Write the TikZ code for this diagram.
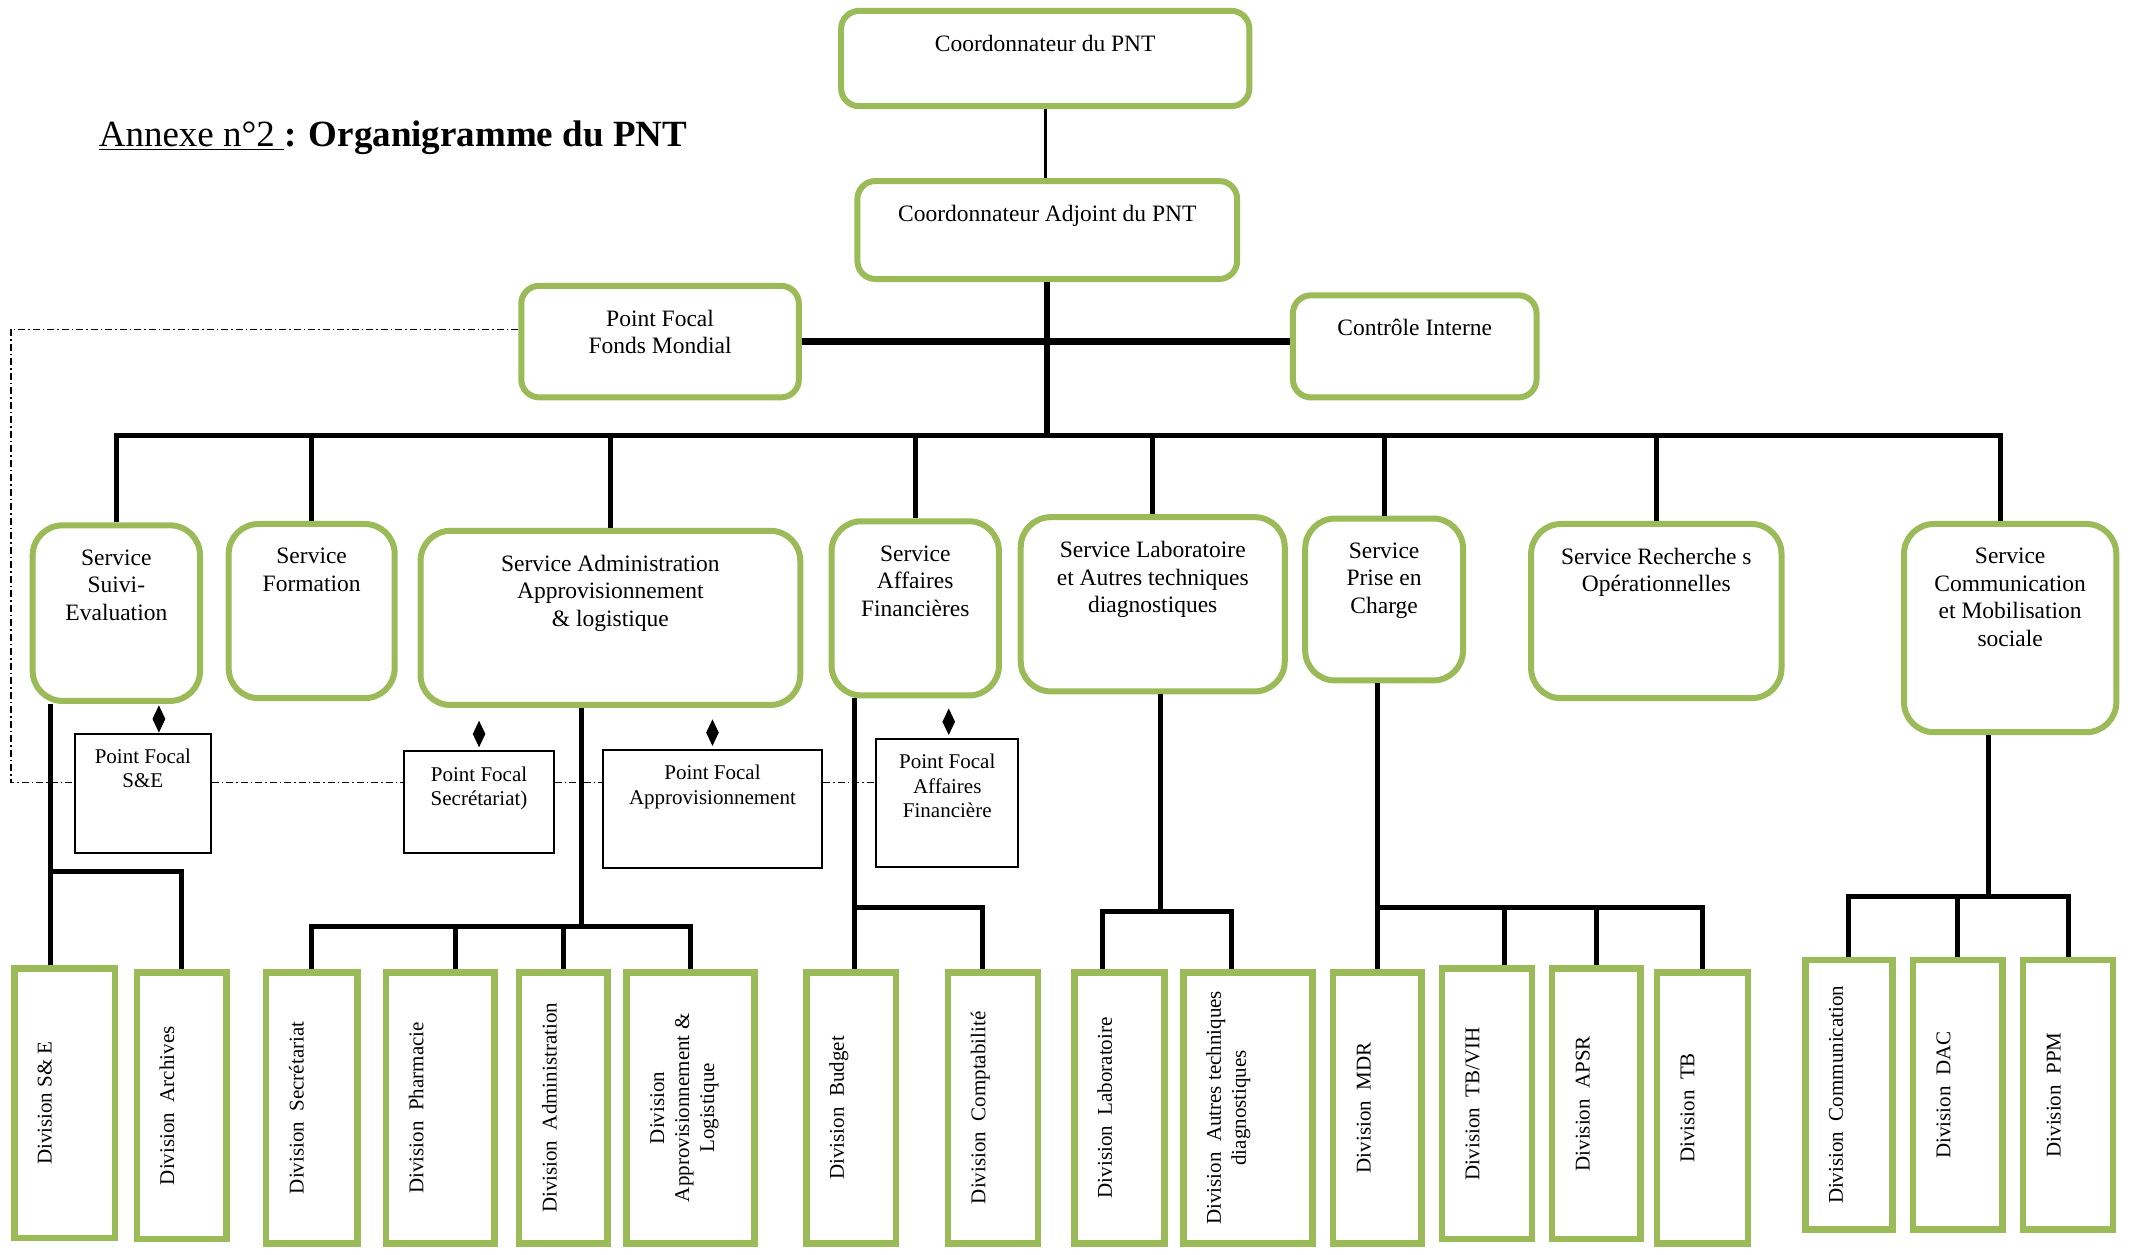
\documentclass[tikz,border=0pt]{standalone}
\usepackage{fontspec}
\setmainfont{Liberation Serif}
\usepackage{graphicx}
\usetikzlibrary{positioning,arrows.meta}

\definecolor{boxgreen}{RGB}{155,187,89}
\newcommand{\boxfont}{\fontsize{23.5}{27.5}\selectfont}
\newcommand{\pffont}{\fontsize{21}{24.5}\selectfont}
\newcommand{\divfont}{\fontsize{21}{25}\selectfont}

\begin{document}
\begin{tikzpicture}[x=1.361pt,y=-1.361pt]
      % the page is the size of the scan, coordinates are read off the scan
      \useasboundingbox (0,0) rectangle (1568,922);
      % wh gives the size of a box in the same units as the coordinates
      % the text of a box sits at its top, so it is put in with a label
      \tikzset{wh/.style 2 args={minimum width=#1*1.361pt, minimum height=#2*1.361pt},
        topbox/.style={draw=boxgreen, line width=6pt, rounded corners=18pt,
            fill=white, inner sep=0pt},
        svc/.style={topbox, rounded corners=30pt},
        pfbox/.style={draw=black, line width=2pt, fill=white, inner sep=0pt},
        divbox/.style={draw=boxgreen, line width=6.5pt, fill=white, inner sep=0pt},
        intext/.style={label={[anchor=north, yshift=-27pt, inner sep=0pt,
            align=center, font=\boxfont]north:#1}},
        pftext/.style={label={[anchor=north, yshift=-16pt, inner sep=0pt,
            align=center, font=\pffont]north:#1}},
        divtext/.style={label={[anchor=west, xshift=23pt, inner sep=0pt,
            font=\divfont]west:\rotatebox{90}{\begin{tabular}{@{}c@{}}#1\end{tabular}}}},
        conn/.style={line width=5pt},
        dia/.style={line width=0.8pt,
            {Triangle[length=13.5pt,width=12.5pt]}-{Triangle[length=13.5pt,width=12.5pt]}},
        fmline/.style={line width=1.7pt, dash pattern=on 7pt off 3pt on 1.5pt off 3pt}}

      \node[anchor=base west, font=\fontsize{37}{41}\selectfont] (title) at (70,108)
          {\underline{Annexe n°2 }\textbf{: Organigramme du PNT}};

      % coordination
      \node[topbox, wh={300}{70}, intext={Coordonnateur du PNT}] (co) at (768,43) {};
      \node[topbox, wh={279}{72}, intext={Coordonnateur Adjoint du PNT}] (ca) at (769.5,169) {};
      \node[topbox, wh={204}{82}, intext={Point Focal\\Fonds Mondial}] (pf) at (485,251) {};
      \node[topbox, wh={179}{75}, intext={Contrôle Interne}] (ci) at (1039.5,254.5) {};

      % the services
      \node[svc, wh={123}{129}, intext={Service\\Suivi-\\Evaluation}] (se) at (85.5,450.5) {};
      \node[svc, wh={122}{128}, intext={Service\\Formation}] (sf) at (229,449) {};
      \node[svc, wh={279}{128}, intext={Service Administration\\Approvisionnement\\\& logistique}] (sa) at (448.5,454) {};
      \node[svc, wh={123}{128}, intext={Service\\Affaires\\Financières}] (saf) at (672.5,447) {};
      \node[svc, wh={194}{128}, intext={Service Laboratoire\\et Autres techniques\\diagnostiques}] (sl) at (847,444) {};
      \node[svc, wh={116}{119}, intext={Service\\Prise en\\Charge}] (sp) at (1017,440.5) {};
      \node[svc, wh={184}{128}, intext={Service Recherche s\\Opérationnelles}] (sr) at (1217,449) {};
      \node[svc, wh={156}{153}, intext={Service\\Communication\\et Mobilisation\\sociale}] (sc) at (1477,461.5) {};

      % the focal points
      \node[pfbox, wh={100}{88}, pftext={Point Focal\\S\&E}] (pse) at (105,583) {};
      \node[pfbox, wh={110}{75}, pftext={Point Focal\\Secrétariat)}] (psec) at (352,589.5) {};
      \node[pfbox, wh={161}{87}, pftext={Point Focal\\Approvisionnement}] (pap) at (523.5,594.5) {};
      \node[pfbox, wh={104}{94}, pftext={Point Focal\\Affaires\\Financière}] (paf) at (696,590) {};

      % the divisions, text turned up
      \node[divbox, wh={74}{198}, divtext={Division S\& E}] (dse) at (47.5,810.5) {};
      \node[divbox, wh={66}{196}, divtext={Division~~Archives}] (dar) at (133.5,812.5) {};
      \node[divbox, wh={67}{199}, divtext={Division~~Secrétariat}] (dsec) at (229,814) {};
      \node[divbox, wh={80}{199}, divtext={Division~~Pharmacie}] (dph) at (323.5,814) {};
      \node[divbox, wh={65}{199}, divtext={Division~~Administration}] (dad) at (414,814) {};
      \node[divbox, wh={94}{199}, divtext={Division\\Approvisionnement \&\\Logistique}] (dal) at (507.5,814) {};
      \node[divbox, wh={66}{199}, divtext={Division~~Budget}] (dbu) at (625.5,814) {};
      \node[divbox, wh={66}{199}, divtext={Division~~Comptabilité}] (dco) at (729.5,814) {};
      \node[divbox, wh={66}{199}, divtext={Division~~Laboratoire}] (dla) at (822.5,814) {};
      \node[divbox, wh={95}{199}, divtext={Division~~Autres techniques\\diagnostiques}] (dau) at (917,814) {};
      \node[divbox, wh={65}{199}, divtext={Division~~MDR}] (dmd) at (1012,814) {};
      \node[divbox, wh={66}{199}, divtext={Division~~TB/VIH}] (dtv) at (1092.5,811) {};
      \node[divbox, wh={65}{199}, divtext={Division~~APSR}] (dap) at (1173,811) {};
      \node[divbox, wh={67}{199}, divtext={Division~~TB}] (dtb) at (1251,814) {};
      \node[divbox, wh={64}{198}, divtext={Division~~Communication}] (dcm) at (1358.5,804.5) {};
      \node[divbox, wh={66}{198}, divtext={Division~~DAC}] (ddac) at (1438.5,804.5) {};
      \node[divbox, wh={66}{198}, divtext={Division~~PPM}] (dppm) at (1519.5,804.5) {};

      % top of the tree
      \coordinate (bus) at (770,320);
      \draw[line width=3pt] (co.south) -- (co.south |- ca.north);
      \draw[line width=6pt] (ca.south) -- (ca.south |- bus);
      \draw[line width=7pt] (pf.east) -- (pf.east -| ci.west);
      \draw[conn] (se.north) |- ([xshift=-10pt]sc.north |- bus) -- ([xshift=-10pt]sc.north);
      \foreach \s in {sf,sa,saf,sl,sp,sr}
        \draw[conn] (\s.north) -- (\s.north |- bus);

      % Fonds Mondial line to the focal points
      \coordinate (dd1) at (8,242);
      \coordinate (dd2) at (8,575);
      \draw[fmline] (pf.west |- dd1) -- (dd1) -- (dd2) -- (dd2 -| pse.west);
      \draw[fmline] (dd2 -| pse.east) -- (dd2 -| psec.west);
      \draw[fmline] (dd2 -| psec.east) -- (dd2 -| pap.west);
      \draw[fmline] (dd2 -| pap.east) -- (dd2 -| paf.west);

      % focal points hang on their service
      \draw[dia] ([xshift=16pt]pse.north) -- ++(0,-20);
      \draw[dia] ([yshift=3pt]psec.north) -- ++(0,-19.5);
      \draw[dia] ([yshift=3pt]pap.north) -- ++(0,-19.5);
      \draw[dia] ([xshift=1.5pt,yshift=3pt]paf.north) -- ++(0,-19.5);

      % services down to divisions
      \coordinate (jse) at (37,640);
      \draw[conn] (jse |- se.south) -- (jse |- dse.north);
      \draw[conn] (jse) -| (dar.north);

      \coordinate (jsa) at (427,681);
      \draw[conn] (jsa |- sa.south) -- (jsa);
      \draw[conn] (dsec.north) |- (jsa) -| (dal.north);
      \draw[conn] ([xshift=15pt]dph.north) -- ([xshift=15pt]dph.north |- jsa);
      \draw[conn] (dad.north) -- (dad.north |- jsa);

      \coordinate (jsaf) at (628,667);
      \draw[conn] (jsaf |- saf.south) -- (jsaf |- dbu.north);
      \draw[conn] (jsaf) -| ([xshift=-10pt]dco.north);

      \coordinate (jsl) at (853,670);
      \draw[conn] (jsl |- sl.south) -- (jsl);
      \draw[conn] ([xshift=-17pt]dla.north) |- (jsl) -| ([xshift=-17pt]dau.north);

      \coordinate (jsp) at (1012,667);
      \draw[conn] (jsp |- sp.south) -- (jsp |- dmd.north);
      \draw[conn] (jsp) -| (dtb.north);
      \draw[conn] ([xshift=18pt]dtv.north) -- ([xshift=18pt]dtv.north |- jsp);
      \draw[conn] (dap.north) -- (dap.north |- jsp);

      \coordinate (jsc) at (1461,659);
      \draw[conn] (jsc |- sc.south) -- (jsc);
      \draw[conn] (dcm.north) |- (jsc) -| (dppm.north);
      \draw[conn] (ddac.north) -- (ddac.north |- jsc);
    \end{tikzpicture}
\end{document}
